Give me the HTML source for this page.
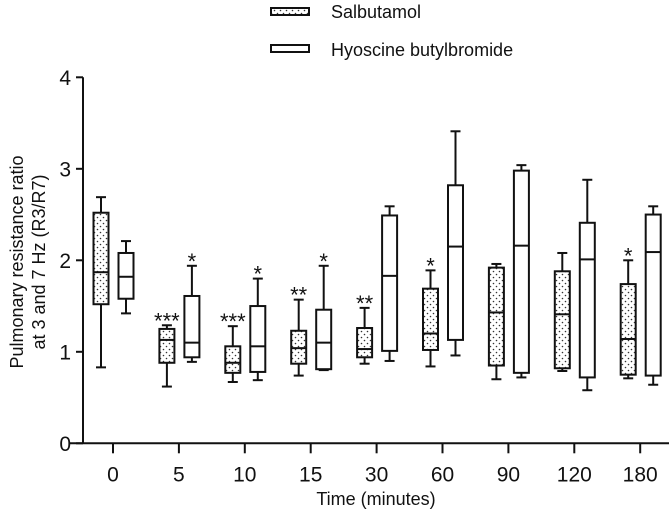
<!DOCTYPE html>
<html><head><meta charset="utf-8"><style>
html,body{margin:0;padding:0;background:#fff;}
svg{display:block;font-family:"Liberation Sans",Arial,sans-serif;}
</style></head><body>
<svg id="chart" width="671" height="513" viewBox="0 0 671 513" xmlns="http://www.w3.org/2000/svg">
<defs>
<pattern id="dots" width="6" height="6" patternUnits="userSpaceOnUse">
<rect width="6" height="6" fill="#fff"/><circle cx="1.5" cy="1.5" r="0.8" fill="#333"/><circle cx="4.5" cy="4.5" r="0.8" fill="#333"/>
</pattern>
</defs>
<g>
<rect x="271" y="8" width="38" height="7" fill="url(#dots)" stroke="#111" stroke-width="2"/>
<text x="331" y="18" font-size="18" fill="#111">Salbutamol</text>
<rect x="271" y="45" width="38" height="7" fill="#fff" stroke="#111" stroke-width="2"/>
<text x="331" y="56" font-size="18" fill="#111">Hyoscine butylbromide</text>
</g>
<g id="axes"></g>
<g id="marks"></g>
<text transform="translate(23,262) rotate(-90)" text-anchor="middle" font-size="18" fill="#111">Pulmonary resistance ratio</text>
<text transform="translate(45,262) rotate(-90)" text-anchor="middle" font-size="18" fill="#111">at 3 and 7 Hz (R3/R7)</text>
<text x="376" y="505" text-anchor="middle" font-size="18" fill="#111">Time (minutes)</text>
</svg>
<script>
const categories = ["0","5","10","15","30","60","90","120","180"];
const yTicks = [0,1,2,3,4];
// [max, q3, median, q1, min]
const salMax = [2.69,1.29,1.28,1.57,1.48,1.89,1.96,2.08,2.00];
const salQ3  = [2.52,1.25,1.06,1.23,1.26,1.69,1.92,1.88,1.74];
const salMed = [1.87,1.13,0.88,1.04,1.03,1.20,1.43,1.41,1.14];
const salQ1  = [1.52,0.88,0.77,0.87,0.94,1.02,0.85,0.82,0.75];
const salMin = [0.83,0.62,0.67,0.74,0.87,0.84,0.70,0.79,0.71];
const hyoMax = [2.21,1.94,1.80,1.94,2.59,3.41,3.04,2.88,2.59];
const hyoQ3  = [2.08,1.61,1.50,1.46,2.49,2.82,2.98,2.41,2.50];
const hyoMed = [1.82,1.10,1.06,1.10,1.83,2.15,2.16,2.01,2.09];
const hyoQ1  = [1.58,0.94,0.78,0.81,1.01,1.13,0.77,0.72,0.74];
const hyoMin = [1.42,0.89,0.69,0.80,0.90,0.96,0.72,0.58,0.64];
const salStars = ["","***","***","**","**","*","","","*"];
const hyoStars = ["","*","*","*","","","","",""];

const NS="http://www.w3.org/2000/svg";
const y0=443.3, pxPerUnit=91.5;
function yScale(v){return y0 - v*pxPerUnit;}
function xScale(i){return 113 + i*65.9;}
function mk(tag,attrs,parent){const e=document.createElementNS(NS,tag);for(const k in attrs)e.setAttribute(k,attrs[k]);parent.appendChild(e);return e;}
const axes=document.getElementById('axes'), marks=document.getElementById('marks');
let e;
e=mk('line',{x1:83,y1:yScale(4),x2:83,y2:y0,stroke:'#111','stroke-width':2},axes);


e=mk('line',{x1:70,y1:y0,x2:669,y2:y0,stroke:'#111','stroke-width':2},axes);


yTicks.forEach(t=>{
  const y=yScale(t);
  let l=mk('line',{x1:76,y1:y,x2:83,y2:y,stroke:'#111','stroke-width':2},axes);
  
  
  let tx=mk('text',{x:71,y:y+7.5,'text-anchor':'end','font-size':21,fill:'#111'},axes);
  tx.textContent=t;
  
  
});
categories.forEach((c,i)=>{
  const x=xScale(i);
  let l=mk('line',{x1:x,y1:y0,x2:x,y2:y0+10,stroke:'#111','stroke-width':2},axes);
  
  
  let tx=mk('text',{x:x,y:y0+38,'text-anchor':'middle','font-size':21,fill:'#111'},axes);
  tx.textContent=c;
  
  
});
function box(cx,mx,q3,md,q1,mn,fill,star,name){
  const g=mk('g',{},marks);
  
  
  const w=15, cap=5;
  mk('line',{x1:cx,y1:yScale(mx),x2:cx,y2:yScale(mn),stroke:'#111','stroke-width':2},g);
  mk('line',{x1:cx-cap,y1:yScale(mx),x2:cx+cap,y2:yScale(mx),stroke:'#111','stroke-width':2},g);
  mk('line',{x1:cx-cap,y1:yScale(mn),x2:cx+cap,y2:yScale(mn),stroke:'#111','stroke-width':2},g);
  mk('rect',{x:cx-w/2,y:yScale(q3),width:w,height:yScale(q1)-yScale(q3),fill:fill,stroke:'#111','stroke-width':2},g);
  mk('line',{x1:cx-w/2,y1:yScale(md),x2:cx+w/2,y2:yScale(md),stroke:'#111','stroke-width':2},g);
  if(star){const t=mk('text',{x:cx,y:yScale(mx)+3,'text-anchor':'middle','font-size':22,fill:'#111'},g);t.textContent=star;}
}
categories.forEach((c,i)=>{
  box(xScale(i)-12,salMax[i],salQ3[i],salMed[i],salQ1[i],salMin[i],'url(#dots)',salStars[i],'box-salbutamol-'+c);
  box(xScale(i)+13,hyoMax[i],hyoQ3[i],hyoMed[i],hyoQ1[i],hyoMin[i],'#fff',hyoStars[i],'box-hyoscine-'+c);
});
</script>
</body></html>
